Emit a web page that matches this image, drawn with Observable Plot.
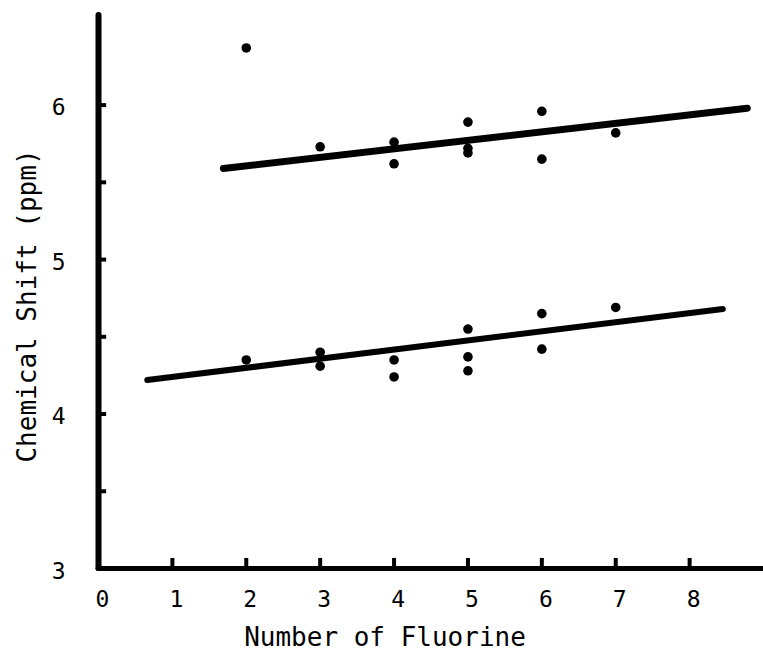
<!DOCTYPE html>
<html>
<head>
<meta charset="utf-8">
<script src="https://cdn.jsdelivr.net/npm/d3@7"></script>
<script src="https://cdn.jsdelivr.net/npm/@observablehq/plot@0.6"></script>
<style>
  html, body { margin: 0; padding: 0; background: #fff; }
</style>
</head>
<body>
<div id="chart"></div>
<script>
// Upper group (points)
const upperX = [2, 3, 4, 4, 5, 5, 5, 6, 6, 7];
const upperY = [6.37, 5.73, 5.76, 5.62, 5.89, 5.72, 5.69, 5.96, 5.65, 5.82];
// Lower group (points)
const lowerX = [2, 3, 3, 4, 4, 5, 5, 5, 6, 6, 7];
const lowerY = [4.35, 4.40, 4.31, 4.35, 4.24, 4.55, 4.37, 4.28, 4.65, 4.42, 4.69];
// Fitted lines (endpoints)
const upperLineX = [1.69, 8.78];
const upperLineY = [5.59, 5.98];
const lowerLineX = [0.66, 8.45];
const lowerLineY = [4.22, 4.68];
// Axes
const xDomain = [0, 9];
const yDomain = [3, 6.58];
const xTickValues = [1, 2, 3, 4, 5, 6, 7, 8];
const xTickLabels = [0, 1, 2, 3, 4, 5, 6, 7, 8];
const yTickValues = [3.5, 4, 4.5, 5, 5.5, 6];
const yTickLabels = [3, 4, 5, 6];
const xTitle = "Number of Fluorine";
const yTitle = "Chemical Shift (ppm)";

const upperPts = upperX.map((x, i) => ({x, y: upperY[i]}));
const lowerPts = lowerX.map((x, i) => ({x, y: lowerY[i]}));
const upperLine = upperLineX.map((x, i) => ({x, y: upperLineY[i]}));
const lowerLine = lowerLineX.map((x, i) => ({x, y: lowerLineY[i]}));

const font = "'DejaVu Sans Mono', 'Liberation Mono', monospace";

const chart = Plot.plot({
  width: 763,
  height: 661,
  marginLeft: 98,
  marginRight: 0,
  marginTop: 15,
  marginBottom: 93,
  style: {fontFamily: font, fontSize: "23px", color: "#000", background: "#fff"},
  x: {domain: xDomain, axis: null},
  y: {domain: yDomain, axis: null},
  marks: [
    // axis lines
    Plot.ruleX([xDomain[0]], {y1: yDomain[0], y2: yDomain[1], stroke: "#000", strokeWidth: 6, strokeLinecap: "round"}),
    Plot.ruleY([yDomain[0]], {x1: xDomain[0], x2: xDomain[1], stroke: "#000", strokeWidth: 5, strokeLinecap: "round"}),
    // inward ticks
    Plot.ruleY(yTickValues, {x1: 0, x2: 0.11, stroke: "#000", strokeWidth: 4}),
    Plot.ruleX(xTickValues, {y1: 3, y2: 3.065, stroke: "#000", strokeWidth: 4}),
    // tick labels
    Plot.axisY({ticks: yTickLabels, tickFormat: d3.format("d"), tickSize: 0, tickPadding: 33, label: null, fontSize: 23, dy: 3}),
    Plot.axisX({ticks: xTickLabels, tickFormat: d3.format("d"), tickSize: 0, tickPadding: 22, label: null, fontSize: 23, dx: 4}),
    // axis titles
    Plot.text([xTitle], {frameAnchor: "bottom", dx: -46, dy: 77, fontSize: 26, fill: "#000"}),
    Plot.text([yTitle], {frameAnchor: "left", textAnchor: "middle", rotate: -90, dx: -71, dy: 14, fontSize: 26, fill: "#000"}),
    // fitted lines
    Plot.line(upperLine, {x: "x", y: "y", stroke: "#000", strokeWidth: 7, strokeLinecap: "round"}),
    Plot.line(lowerLine, {x: "x", y: "y", stroke: "#000", strokeWidth: 6, strokeLinecap: "round"}),
    // points
    Plot.dot(upperPts, {x: "x", y: "y", r: 4.8, fill: "#000", stroke: null}),
    Plot.dot(lowerPts, {x: "x", y: "y", r: 4.8, fill: "#000", stroke: null})
  ]
});
document.getElementById("chart").appendChild(chart);
</script>
</body>
</html>
